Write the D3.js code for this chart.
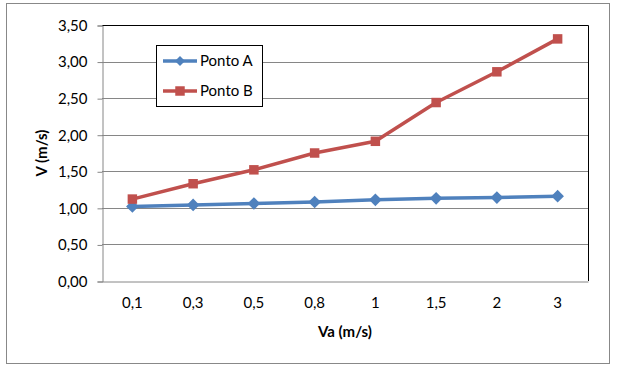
<!DOCTYPE html>
<html>
<head>
<meta charset="utf-8">
<script src="https://cdn.jsdelivr.net/npm/d3@7"></script>
<style>
  body { margin: 0; background: #fff; }
  svg { display: block; font-family: Lato, "Open Sans", sans-serif; }
</style>
</head>
<body>
<svg id="chart" width="618" height="373"></svg>
<script>
// chart values
const categories = ["0,1", "0,3", "0,5", "0,8", "1", "1,5", "2", "3"];
const pontoA = [1.02, 1.04, 1.06, 1.08, 1.11, 1.13, 1.14, 1.16];
const pontoB = [1.12, 1.33, 1.52, 1.75, 1.91, 2.44, 2.86, 3.31];
const yTicks = [0, 0.5, 1, 1.5, 2, 2.5, 3, 3.5];

// wide diamond like the excel marker
const wideDiamond = {
  draw(ctx, size) {
    const r = Math.sqrt(size / 2);
    ctx.moveTo(0, -r);
    ctx.lineTo(r, 0);
    ctx.lineTo(0, r);
    ctx.lineTo(-r, 0);
    ctx.closePath();
  }
};

const series = [
  { name: "Ponto A", values: pontoA, color: "#4F81BD", marker: wideDiamond, size: 80 },
  { name: "Ponto B", values: pontoB, color: "#C0504D", marker: d3.symbolSquare, size: 90 }
];

const svg = d3.select("#chart");
const plot = { left: 102, right: 588, top: 25, bottom: 281 };

// outer frame
svg.append("rect")
  .attr("x", 6.5).attr("y", 3.5)
  .attr("width", 603).attr("height", 360)
  .attr("fill", "#fff").attr("stroke", "#888").attr("stroke-width", 1);

const x = d3.scaleBand().domain(categories).range([plot.left, plot.right]).padding(0);
const y = d3.scaleLinear().domain([0, 3.5]).range([plot.bottom, plot.top]);

// gridlines
svg.append("g").selectAll("line")
  .data(yTicks.slice(1, -1))
  .enter().append("line")
  .attr("x1", plot.left).attr("x2", plot.right)
  .attr("y1", d => Math.round(y(d)) + 0.5).attr("y2", d => Math.round(y(d)) + 0.5)
  .attr("stroke", "#868686");

// plot border top / right in black
svg.append("path")
  .attr("d", `M${plot.left},${plot.top + 0.5}H${plot.right + 0.5}V${plot.bottom}`)
  .attr("fill", "none").attr("stroke", "#000");

// y axis
const fmt = d => d.toFixed(2).replace(".", ",");
const yAxis = svg.append("g")
  .attr("transform", `translate(${plot.left + 0.5},0.5)`)
  .call(d3.axisLeft(y).tickValues(yTicks).tickFormat(fmt).tickSize(5).tickPadding(10));
yAxis.select(".domain").attr("stroke", "#868686");
yAxis.selectAll(".tick line").attr("stroke", "#868686");
yAxis.selectAll("text").attr("font-size", 15).attr("fill", "#000")
  .attr("font-family", "Lato, sans-serif");

// x axis
const xAxis = svg.append("g")
  .attr("transform", `translate(0,${Math.round(plot.bottom) + 0.5})`)
  .call(d3.axisBottom(x).tickSize(0).tickPadding(16));
xAxis.select(".domain").attr("stroke", "#868686");
xAxis.selectAll("text").attr("font-size", 15).attr("fill", "#000")
  .attr("font-family", "Lato, sans-serif");

// axis titles
svg.append("text")
  .attr("x", (plot.left + plot.right) / 2).attr("y", 337)
  .attr("text-anchor", "middle")
  .attr("font-size", 15).attr("font-weight", "bold")
  .text("Va (m/s)");

svg.append("text")
  .attr("transform", `translate(47,${(plot.top + plot.bottom) / 2}) rotate(-90)`)
  .attr("text-anchor", "middle")
  .attr("font-size", 15).attr("font-weight", "bold")
  .text("V (m/s)");

// lines
const line = d3.line()
  .x((d, i) => x(categories[i]) + x.bandwidth() / 2)
  .y(d => y(d));

series.forEach(s => {
  svg.append("path")
    .datum(s.values)
    .attr("d", line)
    .attr("fill", "none")
    .attr("stroke", s.color)
    .attr("stroke-width", 3.5)
    .attr("stroke-linejoin", "round");

  svg.append("g").selectAll("path")
    .data(s.values)
    .enter().append("path")
    .attr("transform", (d, i) => `translate(${x(categories[i]) + x.bandwidth() / 2},${y(d)})`)
    .attr("d", d3.symbol().type(s.marker).size(s.size))
    .attr("fill", s.color);
});

// legend
const legend = svg.append("g");
legend.append("rect")
  .attr("x", 156.5).attr("y", 45.5)
  .attr("width", 106).attr("height", 61)
  .attr("fill", "#fff").attr("stroke", "#000");

series.forEach((s, i) => {
  const ly = 61 + i * 30;
  legend.append("line")
    .attr("x1", 163).attr("x2", 197)
    .attr("y1", ly).attr("y2", ly)
    .attr("stroke", s.color).attr("stroke-width", 3.5);
  legend.append("path")
    .attr("transform", `translate(180,${ly})`)
    .attr("d", d3.symbol().type(s.marker).size(s.size === 80 ? 50 : 90))
    .attr("fill", s.color);
  legend.append("text")
    .attr("x", 200).attr("y", ly + 5)
    .attr("font-size", 15)
    .text(s.name);
});
</script>
</body>
</html>
